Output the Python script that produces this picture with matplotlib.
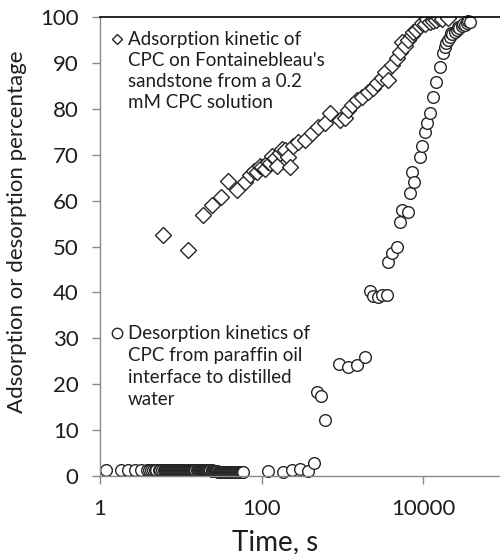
import matplotlib
matplotlib.use("Agg")
import matplotlib.pyplot as plt
from matplotlib.ticker import FixedLocator, FixedFormatter

plt.rcParams['font.family'] = ['Lato', 'DejaVu Sans']

# Adsorption kinetic of CPC on Fontainebleau's sandstone (diamonds)
ads_time = [6.0, 12.3, 18.8, 24, 31, 38.5, 50, 62, 72, 80, 88, 95, 100, 110,
            120, 127, 135, 147, 155, 169, 180, 195, 210, 225, 245, 282, 345,
            420, 500, 610, 700, 935, 1075, 1170, 1320, 1510, 1750, 2090, 2400,
            2690, 3090, 3400, 3650, 4100, 4750, 5150, 5500, 5900, 6450, 7250,
            7500, 8150, 9150, 9800, 10500, 11000, 12100, 13200, 14400, 15500,
            17000, 20000]
ads_value = [52.5, 49.2, 56.9, 59, 60.8, 64.3, 62.3, 64, 65.6, 66.5, 66.2, 67.5,
             67.3, 66.8, 68.5, 68.2, 69.8, 69.3, 67.5, 70.4, 71.2, 71, 69.5,
             67.3, 72, 72.8, 73.2, 74.7, 76, 77, 79, 77.6, 78, 79.7, 80.8, 82,
             82.5, 83.7, 84.5, 85.6, 86.7, 88, 86.3, 89.5, 91, 92.4, 94.5, 93.7,
             95, 96, 96.8, 97.2, 98, 98.6, 98.5, 99.6, 99, 99.2, 99.3, 99.8,
             99.5, 99.8]

# Desorption kinetics of CPC from paraffin oil interface (circles)
# first minute: densely sampled plateau near zero
des_plateau_time = [
    1.2, 1.8, 2.2, 2.7, 3.2, 3.8, 4.0, 4.25, 4.5, 4.75, 5.0, 5.3, 5.6, 5.9,
    6.2, 6.4, 6.6, 6.8, 7.0, 7.2, 7.4, 7.6, 7.8, 8.0, 8.2, 8.5, 8.7, 9.0,
    9.2, 9.5, 9.8, 10.0, 10.3, 10.6, 10.9, 11.2, 11.5, 11.8, 12.2, 12.5,
    12.9, 13.2, 13.6, 14.0, 14.4, 14.8, 15.2, 15.7, 16.1, 16.6, 17.1, 17.6,
    18.1, 18.6, 19.1, 19.7, 20.2, 20.8, 21.4, 22.0, 22.6, 23.3, 24.0, 24.6,
    25.3, 26.0, 26.8, 27.5, 28.3, 29.1, 30.0, 30.8, 31.7, 32.6, 33.6, 34.5,
    35.5, 36.5, 37.6, 38.7, 39.8, 41.0, 42.0, 43.3, 44.5, 45.8, 47.0, 48.4,
    49.8, 51.2, 52.7, 54.2, 55.8, 57.4, 59.0]
des_plateau_value = [
    1.4, 1.4, 1.4, 1.4, 1.4, 1.4, 1.4, 1.4, 1.4, 1.4, 1.4, 1.4, 1.4, 1.4,
    1.4, 1.4, 1.4, 1.4, 1.4, 1.4, 1.4, 1.4, 1.4, 1.4, 1.4, 1.4, 1.4, 1.4,
    1.4, 1.4, 1.4, 1.4, 1.4, 1.4, 1.4, 1.4, 1.4, 1.4, 1.4, 1.4,
    1.4, 1.4, 1.4, 1.4, 1.4, 1.4, 1.4, 1.4, 1.4, 1.4, 1.4, 1.4,
    1.3, 1.4, 1.3, 1.3, 1.3, 1.3, 1.2, 1.3, 1.2, 1.2, 1.2, 1.1,
    1.1, 1.1, 1.0, 1.0, 1.0, 0.9, 0.9, 0.9, 0.8, 0.8, 0.8, 0.8,
    0.8, 0.8, 0.8, 0.8, 0.8, 0.8, 0.8, 0.8, 0.8, 0.8, 0.8, 0.8,
    0.8, 0.8, 0.8, 0.8, 0.8, 0.8, 0.9]
des_time = [120, 185, 236, 300, 380, 440, 480, 550, 605, 910, 1180, 1510, 1900,
            2190, 2410, 2760, 3100, 3540, 3650, 4100, 4750, 5150, 5500, 6450,
            6900, 7200, 7800, 9150, 9800, 10500, 11300, 12100, 13200, 14600,
            16200, 17600, 18500, 19300, 20500, 21400, 22000, 23000, 24700,
            26000, 27000, 28000, 30000, 31000, 32800, 35000, 36000, 38000]
des_value = [1.0, 0.8, 1.3, 1.5, 1.0, 2.9, 18.4, 17.4, 12.2, 24.4, 23.8, 24.2, 26,
             40.4, 39.2, 39, 39.5, 39.4, 46.6, 48.6, 50, 55.4, 58, 57.6,
             61.7, 66.3, 64.1, 69.5, 72, 75, 77, 79, 82.6, 85.9,
             89.1, 92.1, 93.5, 94.3, 95.0, 95.6, 96.5, 96.2, 96.7,
             97.2, 97.8, 97.6, 98.0, 98.5, 98.3, 98.6, 99.2, 99.0]

x_ticks = [1, 100, 10000]
x_tick_labels = ['1', '100', '10000']
y_ticks = [0, 10, 20, 30, 40, 50, 60, 70, 80, 90, 100]

ads_label = ["Adsorption kinetic of", "CPC on Fontainebleau's",
             "sandstone from a 0.2", "mM CPC solution"]
des_label = ["Desorption kinetics of", "CPC from paraffin oil",
             "interface to distilled", "water"]

edge = '#262626'
txt = '#1e1e1e'
grey = '#8a8a8a'

fig = plt.figure(figsize=(5.0, 5.54), dpi=100)
ax = fig.add_axes([0.2, 0.1408, 0.808, 0.8285])

ax.plot(ads_time, ads_value, linestyle='none', marker='D', ms=8.3,
        mfc='white', mec=edge, mew=1.0)
ax.plot(des_plateau_time + des_time, des_plateau_value + des_value,
        linestyle='none', marker='o', ms=8.4, mfc='white', mec=edge, mew=1.0,
        clip_on=False)

ax.set_xscale('log')
ax.set_xlim(1, 100000)
ax.set_ylim(0, 100)
ax.xaxis.set_major_locator(FixedLocator(x_ticks))
ax.xaxis.set_major_formatter(FixedFormatter(x_tick_labels))
ax.xaxis.set_minor_locator(FixedLocator([]))
ax.set_yticks(y_ticks)

for s in ['left', 'bottom']:
    ax.spines[s].set_color(grey)
    ax.spines[s].set_linewidth(1.0)
ax.spines['top'].set_color('black')
ax.spines['top'].set_linewidth(1.2)
ax.spines['right'].set_visible(False)

ax.tick_params(axis='both', direction='out', length=5.5, width=1.0,
               color=grey, labelcolor=txt, labelsize=16)
ax.tick_params(axis='y', pad=10)
ax.tick_params(axis='x', pad=11)

ax.set_xlabel('Time, s', fontsize=20, color=txt)
ax.xaxis.set_label_coords(0.433, -0.115)
ax.set_ylabel('Adsorption or desorption percentage', fontsize=16, color=txt)
ax.yaxis.set_label_coords(-0.18, 0.532)


def legend_block(lines, marker, ms, top_px, step_px):
    # position in axes fraction: axes spans 100..504 px in x, 17..476 px in y
    def yfrac(p):
        return (476 - p) / 459.0
    ax.plot([17 / 404.0], [yfrac(top_px)], transform=ax.transAxes,
            linestyle='none', marker=marker, ms=ms, mfc='white', mec=edge,
            mew=1.0, clip_on=False)
    for i, line in enumerate(lines):
        ax.text(28 / 404.0, yfrac(top_px + i * step_px), line,
                transform=ax.transAxes, ha='left', va='center',
                fontsize=13.5, color=txt)


legend_block(ads_label, 'D', 4.6, 39, 21)
legend_block(des_label, 'o', 7.5, 333, 22.3)

fig.savefig('out.png', dpi=100)
